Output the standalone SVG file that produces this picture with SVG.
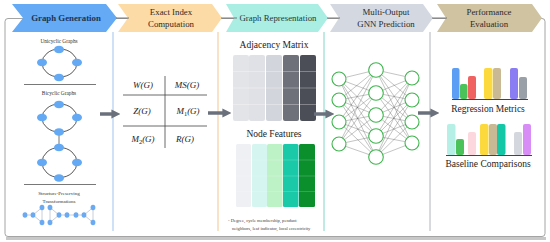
<svg xmlns="http://www.w3.org/2000/svg" width="550" height="242" viewBox="0 0 550 242">
<defs>
<style>
text{font-family:'Liberation Serif','Times New Roman','DejaVu Serif',serif}
.hd{font-size:8.8px;fill:#2b2b2b;text-anchor:middle}
.sm{font-size:5.3px;fill:#333;text-anchor:middle}
.lb{font-size:9.5px;fill:#222;text-anchor:middle}
.mt{font-size:9px;font-style:italic;fill:#222;text-anchor:middle}
.fn{font-size:4.6px;fill:#444}
.gn{fill:#64a9f4}
.ge{fill:none;stroke:#444;stroke-width:0.9}
.tn{fill:#6aaaf2}
.te{stroke:#c4c8cf;stroke-width:0.9;fill:none}
.nn{fill:#fff;stroke:#3eb54d;stroke-width:1.1}
.ne{stroke:#555;stroke-width:0.35}
.ar{stroke:#6b717c;stroke-width:3.5;fill:none;marker-end:url(#ah)}
</style>
<marker id="ah" viewBox="0 0 10 10" refX="4" refY="5" markerWidth="2.6" markerHeight="2.6" orient="auto" markerUnits="strokeWidth">
<path d="M0,0 L10,5 L0,10 z" fill="#6b717c"/>
</marker>
</defs>
<rect width="550" height="242" fill="#fff"/>
<g id="frame">
<rect x="6" y="237" width="540" height="3" fill="#c8c8c8"/>
<rect x="5" y="18.5" width="540" height="218" rx="3" fill="#fff" stroke="#9a9a9a" stroke-width="0.9"/>
<line x1="113" y1="32" x2="113" y2="231" stroke="#9cc3ef" stroke-width="1"/>
<line x1="218" y1="32" x2="218" y2="231" stroke="#f3c78e" stroke-width="1"/>
<line x1="324" y1="32" x2="324" y2="231" stroke="#7fd6ca" stroke-width="1"/>
<line x1="430" y1="32" x2="430" y2="231" stroke="#b0b4ba" stroke-width="1"/>
</g>
<g id="h1">
<path d="M12,4 L106,4 L117,18 L106,32 L12,32 L23,18 Z" fill="#64aaf5"/>
<text x="66" y="21" class="hd" style="font-weight:bold;fill:#1d3557">Graph Generation</text>
</g>
<g id="h2">
<path d="M118,4 L212,4 L222,18 L212,32 L118,32 L128,18 Z" fill="#fddba6"/>
<text x="171" y="15" class="hd">Exact Index</text>
<text x="171" y="27" class="hd">Computation</text>
</g>
<g id="h3">
<path d="M226,4 L318,4 L328,18 L318,32 L226,32 L234,18 Z" fill="#aaeee3"/>
<text x="278" y="21" class="hd" style="fill:#1f3b3b">Graph Representation</text>
</g>
<g id="h4">
<path d="M330,4 L423,4 L433,18 L423,32 L330,32 L339,18 Z" fill="#d4d9e1"/>
<text x="386" y="15" class="hd">Multi-Output</text>
<text x="386" y="27" class="hd">GNN Prediction</text>
</g>
<g id="h5">
<path d="M437,4 L532,4 L542,18 L532,32 L437,32 L446,18 Z" fill="#cfc3a1"/>
<text x="489" y="15" class="hd">Performance</text>
<text x="489" y="27" class="hd">Evaluation</text>
</g>
<g id="topline" stroke="#6b6b6b" stroke-width="0.9">
<line x1="116" y1="18" x2="129" y2="18"/>
<line x1="221" y1="18" x2="237" y2="18"/>
<line x1="327" y1="18" x2="340" y2="18"/>
<line x1="432" y1="18" x2="447" y2="18"/>
</g>
<g id="graphgen">
<text x="59" y="42.5" class="sm">Unicyclic Graphs</text>
<ellipse cx="59.5" cy="63" rx="17.5" ry="14" class="ge"/>
<ellipse cx="59" cy="49.5" rx="5" ry="3.8" class="gn"/>
<ellipse cx="42" cy="62.5" rx="5" ry="3.8" class="gn"/>
<ellipse cx="77" cy="62.5" rx="5" ry="3.8" class="gn"/>
<ellipse cx="59" cy="77.5" rx="5" ry="3.8" class="gn"/>
<line x1="24" y1="84.5" x2="96" y2="84.5" stroke="#555" stroke-width="0.8"/>
<text x="59" y="95" class="sm">Bicyclic Graphs</text>
<line x1="59" y1="131" x2="59" y2="147" stroke="#777" stroke-width="1"/>
<ellipse cx="59.5" cy="118" rx="17.5" ry="14" class="ge"/>
<ellipse cx="59.5" cy="162.5" rx="17.5" ry="15" class="ge"/>
<ellipse cx="59" cy="104.5" rx="5" ry="3.8" class="gn"/>
<ellipse cx="42" cy="117.5" rx="5" ry="3.8" class="gn"/>
<ellipse cx="77" cy="117.5" rx="5" ry="3.8" class="gn"/>
<ellipse cx="59" cy="132" rx="5" ry="3.8" class="gn"/>
<ellipse cx="59" cy="147.5" rx="5" ry="3.8" class="gn"/>
<ellipse cx="42" cy="162.5" rx="5" ry="3.8" class="gn"/>
<ellipse cx="77" cy="162.5" rx="5" ry="3.8" class="gn"/>
<ellipse cx="59" cy="178" rx="5" ry="3.8" class="gn"/>
<line x1="24" y1="184.5" x2="96" y2="184.5" stroke="#555" stroke-width="0.8"/>
<text x="59" y="194.5" class="sm" style="font-size:5px">Structure-Preserving</text>
<text x="59" y="202.5" class="sm" style="font-size:5px">Transformations</text>
<path class="te" d="M25,215 L33,215 L42,207.5 L42,222.5 L33,215 M50,207.5 L50,222.5 L59,215 L50,207.5 M59,215 L84,215 L93,207.5 L93,222.5 L84,215"/>
<g class="tn">
<ellipse cx="25" cy="215" rx="2.4" ry="2.8"/>
<ellipse cx="33" cy="215" rx="2.4" ry="2.8"/>
<ellipse cx="42" cy="207.5" rx="2.4" ry="2.8"/>
<ellipse cx="42" cy="222.5" rx="2.4" ry="2.8"/>
<ellipse cx="50" cy="207.5" rx="2.4" ry="2.8"/>
<ellipse cx="50" cy="222.5" rx="2.4" ry="2.8"/>
<ellipse cx="59" cy="215" rx="2.4" ry="2.8"/>
<ellipse cx="67" cy="215" rx="2.4" ry="2.8"/>
<ellipse cx="76" cy="215" rx="2.4" ry="2.8"/>
<ellipse cx="84" cy="215" rx="2.4" ry="2.8"/>
<ellipse cx="93" cy="207.5" rx="2.4" ry="2.8"/>
<ellipse cx="93" cy="222.5" rx="2.4" ry="2.8"/>
</g>
</g>
<g id="indices">
<line x1="165" y1="76" x2="165" y2="148" stroke="#444" stroke-width="0.8"/>
<line x1="123" y1="95" x2="207" y2="95" stroke="#444" stroke-width="0.8"/>
<line x1="123" y1="126" x2="207" y2="126" stroke="#444" stroke-width="0.8"/>
<text x="143" y="88" class="mt">W(G)</text>
<text x="187" y="88" class="mt">MS(G)</text>
<text x="142" y="114" class="mt">Z(G)</text>
<text x="188" y="114" class="mt">M<tspan font-size="6.5" font-style="normal" dy="2">1</tspan><tspan dy="-2">(G)</tspan></text>
<text x="143" y="142" class="mt">M<tspan font-size="6.5" font-style="normal" dy="2">2</tspan><tspan dy="-2">(G)</tspan></text>
<text x="185" y="142" class="mt">R(G)</text>
</g>
<g id="representation">
<text x="274" y="48" class="lb">Adjacency Matrix</text>
<rect x="233" y="55" width="16" height="66" rx="2" fill="#e3e4e8"/>
<rect x="249" y="55" width="16" height="66" rx="2" fill="#e0e1e6"/>
<rect x="266" y="55" width="16" height="66" rx="2" fill="#d2d5db"/>
<rect x="283" y="55" width="16" height="66" rx="2" fill="#6e7179"/>
<rect x="300" y="55" width="16" height="66" rx="2" fill="#4b4e57"/>
<g stroke="#fff" stroke-opacity="0.45" stroke-width="0.7">
<line x1="233" y1="71.5" x2="316" y2="71.5"/>
<line x1="233" y1="88" x2="316" y2="88"/>
<line x1="233" y1="104.5" x2="316" y2="104.5"/>
</g>
<text x="274" y="137" class="lb">Node Features</text>
<rect x="236" y="144" width="15" height="63" rx="1.5" fill="#eef0f3"/>
<rect x="252" y="144" width="15" height="63" rx="1.5" fill="#d5f6f0"/>
<rect x="267" y="144" width="15.5" height="63" rx="1.5" fill="#bdf1c6"/>
<rect x="283" y="144" width="15.5" height="63" rx="1.5" fill="#19c9a8"/>
<rect x="299" y="144" width="16" height="63" rx="1.5" fill="#0b8f2c"/>
<g stroke="#fff" stroke-opacity="0.3" stroke-width="0.6">
<line x1="236" y1="160" x2="315" y2="160"/>
<line x1="236" y1="176" x2="315" y2="176"/>
<line x1="236" y1="191.5" x2="315" y2="191.5"/>
</g>
<text x="228" y="221.5" class="fn">- Degree, cycle membership, pendant</text>
<text x="232" y="229.5" class="fn">neighbors, leaf indicator, local eccentricity</text>
</g>
<g id="gnn">
<g class="ne">
<path d="M339,79 L376,70 M339,79 L376,93 M339,79 L376,115 M339,79 L376,136 M339,79 L376,157
M339,100 L376,70 M339,100 L376,93 M339,100 L376,115 M339,100 L376,136 M339,100 L376,157
M339,122 L376,70 M339,122 L376,93 M339,122 L376,115 M339,122 L376,136 M339,122 L376,157
M339,144 L376,70 M339,144 L376,93 M339,144 L376,115 M339,144 L376,136 M339,144 L376,157
M376,70 L412,78 M376,70 L412,100 M376,70 L412,122 M376,70 L412,143
M376,93 L412,78 M376,93 L412,100 M376,93 L412,122 M376,93 L412,143
M376,115 L412,78 M376,115 L412,100 M376,115 L412,122 M376,115 L412,143
M376,136 L412,78 M376,136 L412,100 M376,136 L412,122 M376,136 L412,143
M376,157 L412,78 M376,157 L412,100 M376,157 L412,122 M376,157 L412,143"/>
</g>
<circle cx="339" cy="79" r="7" class="nn"/>
<circle cx="339" cy="100" r="7" class="nn"/>
<circle cx="339" cy="122" r="7" class="nn"/>
<circle cx="339" cy="144" r="7" class="nn"/>
<circle cx="376" cy="70" r="7.3" class="nn"/>
<circle cx="376" cy="93" r="7.3" class="nn"/>
<circle cx="376" cy="115" r="7.3" class="nn"/>
<circle cx="376" cy="136" r="7.3" class="nn"/>
<circle cx="376" cy="157" r="7.3" class="nn"/>
<circle cx="412" cy="78" r="7" class="nn"/>
<circle cx="412" cy="100" r="7" class="nn"/>
<circle cx="412" cy="122" r="7" class="nn"/>
<circle cx="412" cy="143" r="7" class="nn"/>
</g>
<g id="evaluation">
<rect x="452" y="68" width="7.5" height="31" rx="2" fill="#5d9ef5"/>
<rect x="460" y="84" width="7.5" height="15" rx="2" fill="#4cc25b"/>
<rect x="468" y="76" width="8" height="23" rx="2" fill="#f06262"/>
<rect x="484" y="68" width="8.5" height="31" rx="2" fill="#fcd93c"/>
<rect x="493" y="68" width="8" height="31" rx="2" fill="#c9b995"/>
<rect x="510" y="68" width="8" height="31" rx="2" fill="#8a7cf2"/>
<rect x="519" y="77" width="8" height="22" rx="2" fill="#9aa0a8"/>
<line x1="452" y1="99.5" x2="528" y2="99.5" stroke="#444" stroke-width="1"/>
<text x="488" y="112" class="lb">Regression Metrics</text>
<rect x="447" y="124" width="8.5" height="31" rx="2" fill="#b6efe6"/>
<rect x="456" y="139" width="8" height="16" rx="2" fill="#4cc25b"/>
<rect x="468" y="132" width="8" height="23" rx="2" fill="#fcd7dd"/>
<rect x="480" y="124" width="8.5" height="31" rx="2" fill="#fcd93c"/>
<rect x="489" y="124" width="8" height="31" rx="2" fill="#c9b995"/>
<rect x="497" y="124" width="8.5" height="31" rx="2" fill="#14c7a6"/>
<rect x="514" y="132" width="8" height="23" rx="2" fill="#d4d8de"/>
<rect x="523" y="124" width="8" height="31" rx="2" fill="#d88cf5"/>
<line x1="446" y1="155.5" x2="532" y2="155.5" stroke="#444" stroke-width="1"/>
<text x="488" y="167" class="lb">Baseline Comparisons</text>
</g>
<g id="connectors">
<line x1="100" y1="114" x2="115" y2="114" class="ar"/>
<line x1="208" y1="113" x2="226" y2="113" class="ar"/>
<line x1="314" y1="114" x2="329" y2="114" class="ar"/>
<line x1="418" y1="113" x2="434" y2="113" class="ar"/>
</g>
</svg>
